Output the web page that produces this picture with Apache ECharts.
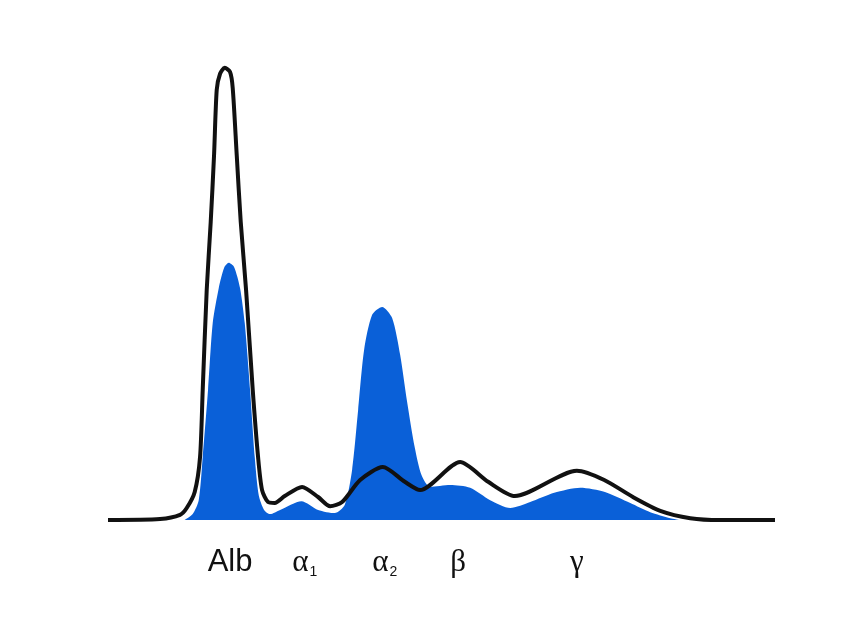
<!DOCTYPE html>
<html lang="en">
<head>
    <meta charset="utf-8">
    <title>Serum protein electrophoresis</title>
    <script src="https://cdn.jsdelivr.net/npm/echarts@6.0.0/dist/echarts.min.js"></script>
    <style>
        body { margin: 0; background: #fff; }
        #chart { width: 844px; height: 639px; }
    </style>
</head>
<body>
<div id="chart"></div>
<script>
    // mobility (0-100) and relative density (0-100)
    const normalX = [0, 7.8, 10.8, 11.8, 13.0, 13.8, 14.2, 14.8, 15.4, 15.9, 16.3, 16.8, 17.5, 18.3, 18.7, 19.3, 19.9, 20.7, 21.7, 22.5, 23.1, 24.0, 25.0, 26.5, 29.1, 31.5, 33.3, 35.1, 37.8, 41.2, 44.5, 46.8, 52.8, 57.0, 61.0, 70.3, 74.4, 78.7, 82.8, 87.3, 91.8, 100];
    const normalY = [0, 0.2, 1.1, 2.6, 6.1, 13.7, 28.3, 50.0, 64.8, 79.3, 93.5, 97.0, 98.3, 97.4, 93.9, 79.3, 64.8, 50.0, 28.3, 13.7, 6.5, 3.9, 3.7, 5.2, 7.2, 5.0, 3.0, 3.9, 8.7, 11.5, 8.3, 6.5, 12.6, 8.3, 5.2, 10.7, 8.7, 5.0, 2.0, 0.4, 0, 0];

    const patientX = [11.5, 12.7, 13.6, 14.2, 15.0, 15.7, 16.6, 17.4, 18.1, 18.9, 19.8, 20.5, 21.3, 22.0, 22.6, 23.4, 24.3, 25.8, 29.0, 31.5, 34.0, 35.5, 36.6, 37.5, 38.4, 39.6, 41.1, 42.6, 43.8, 44.8, 46.0, 47.0, 48.3, 51.3, 54.3, 57.3, 60.3, 63.3, 66.9, 70.8, 74.5, 78.3, 81.3, 84.3, 85.8];
    const patientY = [0, 1.3, 4.3, 13.7, 28.3, 42.8, 50.4, 54.8, 55.9, 55.0, 50.4, 42.8, 28.3, 13.7, 5.4, 2.2, 1.3, 2.2, 4.1, 2.2, 1.5, 3.3, 10.9, 23.9, 37.0, 44.6, 46.3, 43.9, 35.9, 26.1, 15.7, 9.8, 7.2, 7.6, 7.0, 4.3, 2.6, 3.9, 5.9, 7.0, 6.1, 3.7, 1.7, 0.4, 0];

    const fractionNames = ['Alb', 'α1', 'α2', 'β', 'γ'];
    const fractionPos = [18.3, 29.5, 41.5, 52.5, 70.3];

    const zip = (xs, ys) => xs.map((x, i) => [x, ys[i]]);

    const chart = echarts.init(document.getElementById('chart'));
    chart.setOption({
        animation: false,
        grid: { left: 108, right: 69, top: 60, bottom: 119 },
        xAxis: {
            type: 'value',
            min: 0,
            max: 100,
            axisLine: { show: false },
            axisTick: { show: false },
            splitLine: { show: false },
            axisLabel: {
                margin: 27,
                customValues: fractionPos,
                formatter: function (v) {
                    const i = fractionPos.indexOf(v);
                    if (i < 0) return '';
                    const n = fractionNames[i];
                    if (n === 'Alb') return '{sans|Alb}';
                    if (n.length > 1) return '{greek|' + n[0] + '}{sub|' + n.slice(1) + '}';
                    return '{greek|' + n + '}';
                },
                rich: {
                    sans: { fontFamily: 'Liberation Sans', fontSize: 31, color: '#111' },
                    greek: { fontFamily: 'Liberation Serif', fontSize: 31, color: '#111' },
                    sub: { fontFamily: 'Liberation Sans', fontSize: 14, color: '#111', padding: [18, 0, 0, 1] }
                }
            }
        },
        yAxis: {
            type: 'value',
            min: 0,
            max: 100,
            show: false
        },
        series: [
            {
                type: 'line',
                data: zip(patientX, patientY),
                smooth: 0.25,
                symbol: 'none',
                clip: false,
                lineStyle: { width: 0 },
                areaStyle: { color: '#0a60d8', opacity: 1 }
            },
            {
                type: 'line',
                data: zip(normalX, normalY),
                smooth: 0.25,
                symbol: 'none',
                clip: false,
                lineStyle: { color: '#111', width: 4 }
            }
        ]
    });
</script>
</body>
</html>
